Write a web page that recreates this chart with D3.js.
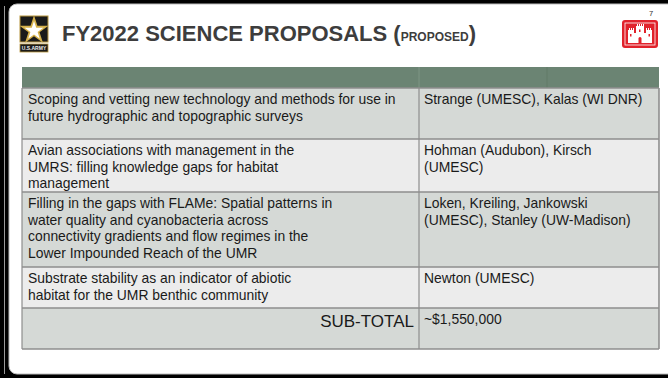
<!DOCTYPE html>
<html><head><meta charset="utf-8">
<script src="https://cdn.jsdelivr.net/npm/d3@7"></script>
<style>
html,body{margin:0;padding:0;background:#000;}
svg{display:block;font-family:"Liberation Sans",Arial,sans-serif;}
</style></head>
<body>
<svg id="c" width="668" height="378"></svg>
<script>
// ---- data ----
const titleMain = "FY2022 SCIENCE PROPOSALS";
const titleSub = "PROPOSED";
const pageNumber = "7";
const projects = [
  ["Scoping and vetting new technology and methods for use in", "future hydrographic and topographic surveys"],
  ["Avian associations with management in the", "UMRS: filling knowledge gaps for habitat", "management"],
  ["Filling in the gaps with FLAMe: Spatial patterns in", "water quality and cyanobacteria across", "connectivity gradients and flow regimes in the", "Lower Impounded Reach of the UMR"],
  ["Substrate stability as an indicator of abiotic", "habitat for the UMR benthic community"]
];
const investigators = [
  ["Strange (UMESC), Kalas (WI DNR)"],
  ["Hohman (Audubon), Kirsch", "(UMESC)"],
  ["Loken, Kreiling, Jankowski", "(UMESC), Stanley (UW-Madison)"],
  ["Newton (UMESC)"]
];
const subtotalLabel = "SUB-TOTAL";
const subtotalValue = "~$1,550,000";

// ---- layout ----
const svg = d3.select("#c");
const W = 668, H = 378;
svg.append("rect").attr("width", W).attr("height", H).attr("fill", "#000");
svg.append("line").attr("x1", 4.5).attr("x2", 4.5).attr("y1", 6).attr("y2", 374)
  .attr("stroke", "#9a9a9a").attr("stroke-width", 1);
svg.append("rect").attr("x", 9).attr("y", 4).attr("width", 700).attr("height", 370)
  .attr("rx", 8).attr("fill", "#fff").attr("stroke", "#bdbdbd").attr("stroke-width", 1);

// Title
const title = svg.append("text").attr("x", 62).attr("y", 41)
  .attr("fill", "#3d3d3d").attr("font-weight", "bold").attr("font-size", 22);
title.append("tspan").text(titleMain + " (");
title.append("tspan").attr("font-size", 12).text(titleSub);
title.append("tspan").text(")");

// Page number
svg.append("text").attr("x", 651).attr("y", 16).attr("font-size", 7.5)
  .attr("fill", "#333").attr("text-anchor", "middle").text(pageNumber);

// Army logo
const army = svg.append("g").attr("transform", "translate(20,16)");
army.append("rect").attr("width", 28).attr("height", 26).attr("fill", "#1a1a1a")
  .attr("stroke", "#b8963e").attr("stroke-width", 1);
army.append("path").attr("d", d3.symbol(d3.symbolStar, 260)())
  .attr("transform", "translate(14,14.5)").attr("fill", "#d4b04a");
army.append("path").attr("d", d3.symbol(d3.symbolStar, 110)())
  .attr("transform", "translate(14,14.8)").attr("fill", "#fff");
army.append("rect").attr("y", 28).attr("width", 28).attr("height", 8).attr("fill", "#1a1a1a")
  .attr("stroke", "#b8963e").attr("stroke-width", 0.8);
army.append("text").attr("x", 14).attr("y", 34.3).attr("text-anchor", "middle")
  .attr("font-size", 5).attr("font-weight", "bold").attr("fill", "#eee").text("U.S.ARMY");

// Castle logo
const castle = svg.append("g").attr("transform", "translate(622,20)");
castle.append("rect").attr("width", 36).attr("height", 28).attr("rx", 3).attr("fill", "#e1222b");
castle.append("rect").attr("x", 3).attr("y", 3).attr("width", 30).attr("height", 22)
  .attr("fill", "none").attr("stroke", "#fff").attr("stroke-width", 0.8);
const cp = "M6,23 V10 H7 V8 H8 V10 H9 V8 H10 V10 H11 V8 H12 V13 H14 V6 H15 V4 H16 V6 H17 V4 H18 V6 H19 V4 H20 V6 H21 V4 H22 V6 H22 V13 H24 V8 H25 V10 H26 V8 H27 V10 H28 V8 H29 V10 H30 V23 Z";
castle.append("path").attr("d", cp).attr("fill", "#fff");
castle.append("path").attr("d", "M16.5,23 V18 Q18,16 19.5,18 V23 Z").attr("fill", "#e1222b");
[[8,14],[26.5,14],[17,9.5]].forEach(p => castle.append("rect").attr("x", p[0]).attr("y", p[1])
  .attr("width", 1.5).attr("height", 2.5).attr("fill", "#e1222b"));

// Table
const tx0 = 22, tx1 = 659, split = 419;
const headerTop = 67, headerH = 21;
const rowHeights = [51, 53, 75, 41, 41];
const fills = ["#d5d9d6", "#ececec", "#d5d9d6", "#ececec", "#d5d9d6"];
const lineH = 16.6;
const fs = 13.9;
const rows = projects.map((p, i) => ({ left: p, right: investigators[i] }));
rows.push({ left: [], right: [subtotalValue], subtotal: true });

let tops = [];
let acc = headerTop + headerH;
rowHeights.forEach(h => { tops.push(acc); acc += h; });
const tableBottom = acc;

const tbl = svg.append("g");
tbl.append("rect").attr("x", tx0).attr("y", headerTop).attr("width", tx1 - tx0).attr("height", headerH)
  .attr("fill", "#6b8473");
tbl.append("line").attr("x1", split).attr("x2", split).attr("y1", headerTop).attr("y2", headerTop + headerH)
  .attr("stroke", "#7f9585").attr("stroke-width", 1);
tbl.append("line").attr("x1", 547).attr("x2", 547).attr("y1", headerTop).attr("y2", headerTop + headerH)
  .attr("stroke", "#627a69").attr("stroke-width", 1);

const rg = tbl.selectAll("g.row").data(rows).join("g").attr("class", "row")
  .attr("transform", (d, i) => `translate(0,${tops[i]})`);
rg.append("rect").attr("x", tx0).attr("width", tx1 - tx0)
  .attr("height", (d, i) => rowHeights[i]).attr("fill", (d, i) => fills[i]);

rg.each(function(d, i) {
  const g = d3.select(this);
  d.left.forEach((t, k) => g.append("text").attr("x", tx0 + 6).attr("y", 16 + k * lineH)
    .attr("font-size", fs).attr("fill", "#1a1a1a").text(t));
  d.right.forEach((t, k) => g.append("text").attr("x", split + 5).attr("y", 16 + k * lineH)
    .attr("font-size", fs).attr("fill", "#1a1a1a").text(t));
  if (d.subtotal) {
    g.append("text").attr("x", split - 5).attr("y", 19).attr("text-anchor", "end")
      .attr("font-size", 17).attr("fill", "#1a1a1a").text(subtotalLabel);
  }
});

// grid lines
const gridC = "#8e8e8e";
tops.concat([tableBottom]).forEach(y => tbl.append("line").attr("x1", tx0).attr("x2", tx1)
  .attr("y1", y).attr("y2", y).attr("stroke", gridC).attr("stroke-width", 1.3));
[tx0, split, tx1].forEach(x => tbl.append("line").attr("x1", x).attr("x2", x)
  .attr("y1", headerTop + headerH).attr("y2", tableBottom).attr("stroke", gridC).attr("stroke-width", x === tx1 ? 1.6 : 1.2));
</script>
</body></html>
